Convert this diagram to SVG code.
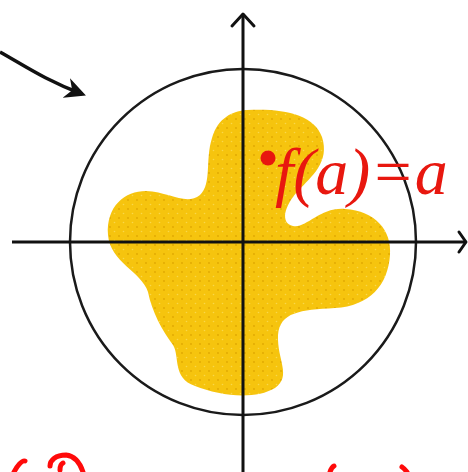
<svg xmlns="http://www.w3.org/2000/svg" width="468" height="472" viewBox="0 0 468 472">
<defs>
<style>
.ax{stroke:#111;stroke-width:3;fill:none}
.ah{stroke:#111;stroke-width:3;fill:none;stroke-linecap:round;stroke-linejoin:round}
.scr{stroke:#FF0A0A;stroke-width:5;fill:none;stroke-linecap:round}
</style>
<pattern id="dots" width="9" height="9" patternUnits="userSpaceOnUse">
<rect width="9" height="9" fill="#F6C40E"/>
<circle cx="2" cy="2" r="0.9" fill="#E0A800"/>
<circle cx="6.5" cy="6.5" r="0.8" fill="#FAD84A"/>
</pattern>
<marker id="ptr" viewBox="0 0 10 10" refX="8" refY="5" markerWidth="6" markerHeight="6" orient="auto">
<path d="M0,0 L10,5 L0,10 L3,5 Z" fill="#111"/>
</marker>
</defs>
<rect width="468" height="472" fill="#fff"/>
<g id="region">
<path d="M247,110 C282,108 314,114 322,137 C330,162 312,176 298,191 C284,206 280,223 293,226 C306,229 320,207 345,209 C375,211 392,230 390,255 C388,285 370,306 335,308 C300,310 280,312 278,335 C277,360 292,376 275,388 C255,400 220,396 195,386 C172,378 180,356 173,345 C162,330 152,312 148,292 C142,272 110,262 108,235 C106,206 125,191 146,191 C170,192 186,206 200,195 C212,184 205,160 212,138 C218,118 232,111 247,110 Z" fill="url(#dots)"/>
</g>
<g id="disk">
<circle cx="243" cy="242" r="173" fill="none" stroke="#1a1a1a" stroke-width="2.5"/>
</g>
<g id="connectors">
<line class="ax" x1="243" y1="472" x2="243" y2="14"/>
<polyline class="ah" points="232,26 243,14 254,26"/>
<line class="ax" x1="12" y1="242" x2="465" y2="242"/>
<polyline class="ah" points="459,232 466,242 459,252"/>
<path d="M0,52 C25,66 45,80 82,94" stroke="#111" stroke-width="3.5" fill="none" marker-end="url(#ptr)"/>
</g>
<g id="fixed-point">
<circle cx="268" cy="158" r="7.5" fill="#E8170F"/>
<text x="275" y="194" font-family="'Liberation Serif', 'Times New Roman', serif" font-style="italic" font-size="66" fill="#E8170F">f(a)=a</text>
</g>
<g id="scribbles">
<path class="scr" d="M14,472 C17,466 22,460 25,461"/>
<path class="scr" d="M50,466 C50,460 56,455 66,455 C75,456 80,463 83,472"/>
<path class="scr" d="M60,470 C60,466 61,464 63,463"/>
<path class="scr" d="M330,472 C331,469 332,467 334,466"/>
<path class="scr" d="M402,467 C405,469 406,471 407,472"/>
</g>
</svg>
